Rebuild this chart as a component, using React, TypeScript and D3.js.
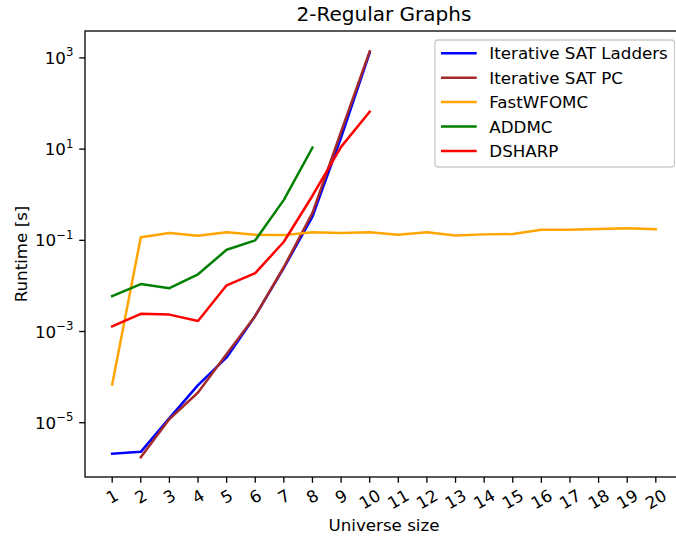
import React from "react";
import * as d3 from "d3";

// Universe sizes on the x axis
const sizes = d3.range(1, 21);

// Runtimes in seconds, indexed by universe size (null = not measured)
const ladders: (number | null)[] = [2.1e-6, 2.3e-6, 1.26e-5, 6.7e-5, 2.7e-4, 2.2e-3, 0.025, 0.33, 18, 1300];
const pc: (number | null)[] = [null, 1.75e-6, 1.2e-5, 4.6e-5, 3.2e-4, 2.2e-3, 0.026, 0.4, 24, 1400];
const fastwfomc: (number | null)[] = [
  6.9e-5, 0.117, 0.145, 0.126, 0.15, 0.132, 0.13, 0.15, 0.145, 0.15,
  0.132, 0.15, 0.128, 0.135, 0.137, 0.17, 0.17, 0.178, 0.185, 0.175,
];
const addmc: (number | null)[] = [6.0e-3, 0.011, 0.0089, 0.018, 0.062, 0.1, 0.77, 10.8];
const dsharp: (number | null)[] = [1.3e-3, 2.45e-3, 2.35e-3, 1.7e-3, 0.0103, 0.019, 0.093, 0.95, 11.2, 66];

const seriesNames = ["Iterative SAT Ladders", "Iterative SAT PC", "FastWFOMC", "ADDMC", "DSHARP"];
const seriesValues = [ladders, pc, fastwfomc, addmc, dsharp];
const seriesColors = ["#0000ff", "#a52a2a", "#ffa500", "#008000", "#ff0000"];

const yTickExponents = [-5, -3, -1, 1, 3];

const W = 676;
const H = 541;
const FONT = "'DejaVu Sans', sans-serif";
const FS = 16.7;
const LW = 2.5;

export default function App() {
  const left = 85;
  const right = 683;
  const top = 31;
  const bottom = 477;

  const x = d3.scaleLinear().domain([0.05, 20.95]).range([left, right]);
  const y = d3.scaleLog().domain([Math.pow(10, -6.19), Math.pow(10, 3.59)]).range([bottom, top]);

  const line = d3
    .line<[number, number | null]>()
    .defined((d) => d[1] != null)
    .x((d) => x(d[0]))
    .y((d) => y(d[1] as number));

  const digitW = 0.636 * FS;
  const tickLen = 5.8;
  const pad = 5.8;

  return (
    <svg
      width={W}
      height={H}
      style={{ position: "absolute", left: 0, top: 0, background: "#fff" }}
      fontFamily={FONT}
    >
      <rect x={0} y={0} width={W} height={H} fill="#fff" />
      <defs>
        <clipPath id="plot">
          <rect x={left} y={top} width={right - left} height={bottom - top} />
        </clipPath>
      </defs>

      {/* Series lines */}
      <g clipPath="url(#plot)">
        {seriesValues.map((vals, i) => (
          <path
            key={seriesNames[i]}
            d={line(vals.map((v, j) => [sizes[j], v] as [number, number | null])) || ""}
            fill="none"
            stroke={seriesColors[i]}
            strokeWidth={LW}
            strokeLinejoin="round"
            strokeLinecap="square"
          />
        ))}
      </g>

      {/* Axes frame */}
      <rect x={left} y={top} width={right - left} height={bottom - top} fill="none" stroke="#000" strokeWidth={1.3} />

      {/* X ticks */}
      {sizes.map((s) => {
        const label = String(s);
        const w = label.length * digitW;
        const h = FS;
        const cy = bottom + tickLen + pad + (w * 0.5 + h * 0.866) / 2 - 2;
        return (
          <g key={s}>
            <line x1={x(s)} x2={x(s)} y1={bottom} y2={bottom + tickLen} stroke="#000" strokeWidth={1.3} />
            <text
              transform={`translate(${x(s)},${cy}) rotate(-30)`}
              textAnchor="middle"
              dominantBaseline="central"
              fontSize={FS}
              fill="#000"
            >
              {label}
            </text>
          </g>
        );
      })}

      {/* Y ticks */}
      {yTickExponents.map((e) => {
        const yy = y(Math.pow(10, e));
        return (
          <g key={e}>
            <line x1={left - tickLen} x2={left} y1={yy} y2={yy} stroke="#000" strokeWidth={1.3} />
            <text x={left - tickLen - pad} y={yy + 6} textAnchor="end" fontSize={FS} fill="#000">
              10
              <tspan dy={-7.5} fontSize={FS * 0.7}>
                {e < 0 ? "\u2212" + Math.abs(e) : String(e)}
              </tspan>
            </text>
          </g>
        );
      })}

      {/* Title and axis labels */}
      <text x={(left + right) / 2} y={21} textAnchor="middle" fontSize={20} fill="#000">
        2-Regular Graphs
      </text>
      <text x={(left + right) / 2} y={531} textAnchor="middle" fontSize={FS} fill="#000">
        Universe size
      </text>
      <text
        transform={`translate(27,${(top + bottom) / 2}) rotate(-90)`}
        textAnchor="middle"
        fontSize={FS}
        fill="#000"
      >
        Runtime [s]
      </text>

      {/* Legend */}
      <g>
        <rect x={435} y={40} width={239.5} height={127} rx={3} fill="#fff" fillOpacity={0.8} stroke="#cccccc" strokeWidth={1.3} />
        {seriesNames.map((name, i) => {
          const ly = 53.3 + i * 24.4;
          return (
            <g key={name}>
              <line x1={441} x2={476.7} y1={ly} y2={ly} stroke={seriesColors[i]} strokeWidth={LW} />
              <text x={489.3} y={ly + 6} fontSize={FS} fill="#000">
                {name}
              </text>
            </g>
          );
        })}
      </g>
    </svg>
  );
}
